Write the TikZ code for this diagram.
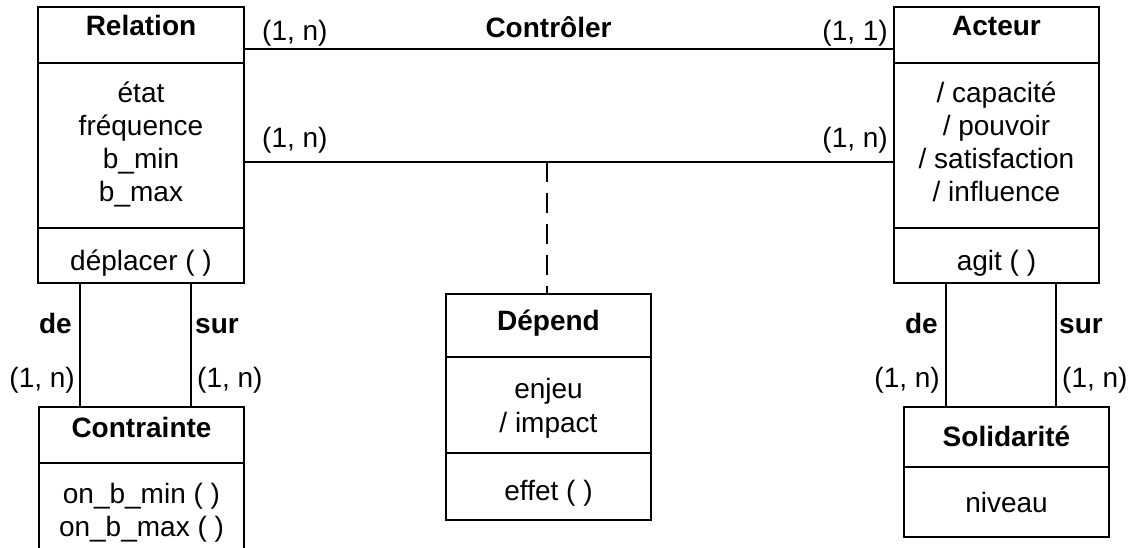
\documentclass[tikz,border=0pt]{standalone}
\usepackage{fontspec}
\setmainfont{Liberation Sans}
\begin{document}
\begin{tikzpicture}[x=1pt,y=-1pt,
  lw/.style={line width=1.7pt},
  box/.style={draw,lw,rectangle,inner sep=0pt},
  txt/.style={anchor=base,inner sep=0pt,font=\fontsize{28}{33}\selectfont},
  ttl/.style={txt,font=\fontsize{28}{33}\selectfont\bfseries},
  card/.style={inner sep=0pt,font=\fontsize{28}{33}\selectfont},
  dashline/.style={lw,dash pattern=on 20pt off 11pt}]
\useasboundingbox (0,0) rectangle (1135,547);
\clip (0,0) rectangle (1135,547);
% boxes
\node[box,minimum width=206pt,minimum height=276pt] (rel) at (141,145) {};
\node[box,minimum width=205pt,minimum height=276pt] (act) at (996.5,145) {};
\node[box,minimum width=205pt,minimum height=193pt] (con) at (141.5,503.5) {};
\node[box,minimum width=205pt,minimum height=130pt] (sol) at (1006.5,472) {};
\node[box,minimum width=205pt,minimum height=226pt] (dep) at (548.5,407) {};
% dividers
\draw[lw] (rel.west |- 0,63) -- (rel.east |- 0,63);
\draw[lw] (rel.west |- 0,228) -- (rel.east |- 0,228);
\draw[lw] (act.west |- 0,63) -- (act.east |- 0,63);
\draw[lw] (act.west |- 0,228) -- (act.east |- 0,228);
\draw[lw] (con.west |- 0,463) -- (con.east |- 0,463);
\draw[lw] (sol.west |- 0,467) -- (sol.east |- 0,467);
\draw[lw] (dep.west |- 0,357) -- (dep.east |- 0,357);
\draw[lw] (dep.west |- 0,453) -- (dep.east |- 0,453);
% Relation text
\node[ttl] (relt) at (141,35) {Relation};
\node[txt] (rel1) at (141,102) {état};
\node[txt] (rel2) at (141,135) {fréquence};
\node[txt] (rel3) at (141,168) {b\_min};
\node[txt] (rel4) at (141,201) {b\_max};
\node[txt] (relm) at (141,270) {déplacer ( )};
% Acteur text
\node[ttl] (actt) at (996.5,35) {Acteur};
\node[txt] (act1) at (996.5,102) {/ capacité};
\node[txt] (act2) at (996.5,135) {/ pouvoir};
\node[txt] (act3) at (996.5,168) {/ satisfaction};
\node[txt] (act4) at (996.5,201) {/ influence};
\node[txt] (actm) at (996.5,270) {agit ( )};
% Contrainte text
\node[ttl] (cont) at (141.5,437) {Contrainte};
\node[txt] (con1) at (141.5,503) {on\_b\_min ( )};
\node[txt] (con2) at (141.5,536) {on\_b\_max ( )};
% Solidarite text
\node[ttl] (solt) at (1006.5,446) {Solidarité};
\node[txt] (sol1) at (1006.5,512) {niveau};
% Depend text
\node[ttl] (dept) at (548.5,330) {Dépend};
\node[txt] (dep1) at (548.5,398) {enjeu};
\node[txt] (dep2) at (548.5,432) {/ impact};
\node[txt] (depm) at (548.5,500) {effet ( )};
% associations
\draw[lw] (rel.east |- 0,49) -- (act.west |- 0,49);
\draw[lw] (rel.east |- 0,162) -- (act.west |- 0,162);
\coordinate (mid) at (547,162);
\draw[dashline] (mid) -- (dep.north -| mid);
\draw[lw] (rel.south -| 80,0) -- (con.north -| 80,0);
\draw[lw] (rel.south -| 191,0) -- (con.north -| 191,0);
\draw[lw] (act.south -| 946,0) -- (sol.north -| 946,0);
\draw[lw] (act.south -| 1056,0) -- (sol.north -| 1056,0);
% labels
\node[ttl] (ctl) at (548.5,37.5) {Contrôler};
\node[card,anchor=base west] (c1) at (262,40) {(1, n)};
\node[card,anchor=base east] (c2) at (888,40) {(1, 1)};
\node[card,anchor=base west] (c3) at (262,147) {(1, n)};
\node[card,anchor=base east] (c4) at (888,147) {(1, n)};
\node[card,font=\fontsize{28}{33}\selectfont\bfseries,anchor=base east] (de1) at (72,333) {de};
\node[card,anchor=base east] (c5) at (75,387) {(1, n)};
\node[card,font=\fontsize{28}{33}\selectfont\bfseries,anchor=base west] (sur1) at (195,333) {sur};
\node[card,anchor=base west] (c6) at (197,387) {(1, n)};
\node[card,font=\fontsize{28}{33}\selectfont\bfseries,anchor=base east] (de2) at (938,333) {de};
\node[card,anchor=base east] (c7) at (940,387) {(1, n)};
\node[card,font=\fontsize{28}{33}\selectfont\bfseries,anchor=base west] (sur2) at (1059,333) {sur};
\node[card,anchor=base west] (c8) at (1062,387) {(1, n)};
\end{tikzpicture}
\end{document}
